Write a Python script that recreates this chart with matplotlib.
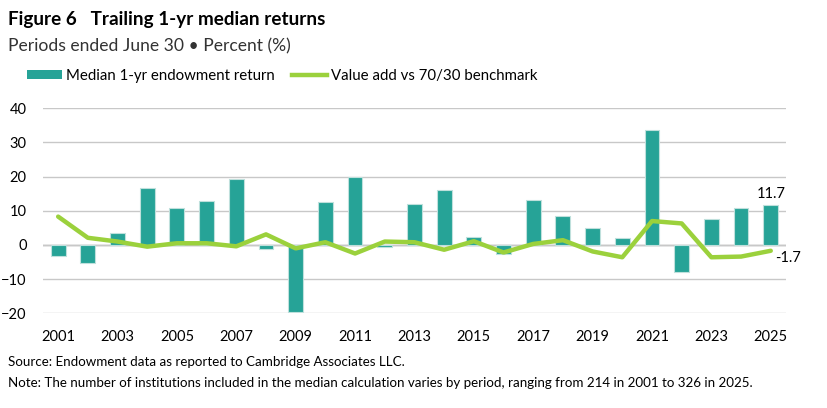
import matplotlib
matplotlib.use("Agg")
import matplotlib.pyplot as plt
from matplotlib.lines import Line2D
from matplotlib.patches import Patch

years = list(range(2001, 2026))
median_return = [-3.2, -5.3, 3.5, 16.6, 10.7, 12.8, 19.3, -1.3, -19.5, 12.5,
                 19.9, -0.7, 12.1, 16.2, 2.2, -2.5, 13.3, 8.6, 5.1, 1.9,
                 33.6, -7.9, 7.7, 10.9, 11.7]
value_add = [8.3, 2.1, 1.0, -0.5, 0.5, 0.5, -0.4, 3.1, -1.0, 0.8,
             -2.5, 1.0, 0.8, -1.4, 1.1, -2.2, 0.3, 1.4, -1.9, -3.6,
             7.0, 6.3, -3.6, -3.4, -1.7]
xtick_years = list(range(2001, 2026, 2))
yticks = [-20, -10, 0, 10, 20, 30, 40]

bar_color = "#26A397"
line_color = "#9BD13C"
font = ["Lato", "DejaVu Sans"]
plt.rcParams["font.family"] = font

fig = plt.figure(figsize=(8.28, 4.08), dpi=100)
ax = fig.add_axes([0.0523, 0.2321, 0.8965, 0.5025])

ax.bar(years, median_return, width=0.5, color=bar_color, edgecolor="#BFE0DC",
       linewidth=0.8, zorder=2)
ax.plot(years, value_add, color=line_color, linewidth=3.2, zorder=3,
        solid_joinstyle="round", solid_capstyle="round")

ax.set_xlim(2000.5, 2025.5)
ax.set_ylim(-20, 40)
ax.set_yticks(yticks)
ax.set_xticks(xtick_years)
ax.set_xticklabels([str(y) for y in xtick_years])
ax.grid(axis="y", color="#C8C8C8", linewidth=1.0, zorder=0)
ax.axhline(0, color="#A6A6A6", linewidth=1.0, zorder=1)
for s in ax.spines.values():
    s.set_visible(False)
ax.tick_params(axis="both", length=0, labelsize=10.5, colors="#000000")
ax.tick_params(axis="x", pad=12)
ax.tick_params(axis="y", pad=12)

ax.annotate(f"{median_return[-1]:.1f}", (years[-1], median_return[-1]),
            xytext=(0, 3), textcoords="offset points", ha="center", va="bottom",
            fontsize=10.5)
ax.annotate(f"{value_add[-1]:.1f}", (years[-1], value_add[-1]),
            xytext=(3.5, -5), textcoords="offset points", ha="left", va="center",
            fontsize=10.5)

fig.text(0.0097, 0.952, "Figure 6   Trailing 1-yr median returns", fontsize=13.6,
         fontweight="bold", va="center", ha="left")
fig.text(0.0097, 0.886, "Periods ended June 30 \u2022 Percent (%)", fontsize=12.6,
         fontweight="normal", va="center", ha="left", color="#333333")

handles = [Patch(facecolor=bar_color, edgecolor="none"),
           Line2D([0], [0], color=line_color, linewidth=3.2)]
labels = ["Median 1-yr endowment return", "Value add vs 70/30 benchmark"]
fig.legend(handles, labels, loc="center left", bbox_to_anchor=(0.0326, 0.814),
           ncol=2, frameon=False, fontsize=10.8, handlelength=2.33,
           handleheight=0.55, handletextpad=0.3, columnspacing=1.1,
           borderpad=0, borderaxespad=0)

fig.text(0.0097, 0.113, "Source: Endowment data as reported to Cambridge Associates LLC.",
         fontsize=9.6, va="center", ha="left")
fig.text(0.0097, 0.062, "Note: The number of institutions included in the median calculation varies by period, ranging from 214 in 2001 to 326 in 2025.",
         fontsize=9.6, va="center", ha="left")

fig.savefig("out.png", dpi=100)
